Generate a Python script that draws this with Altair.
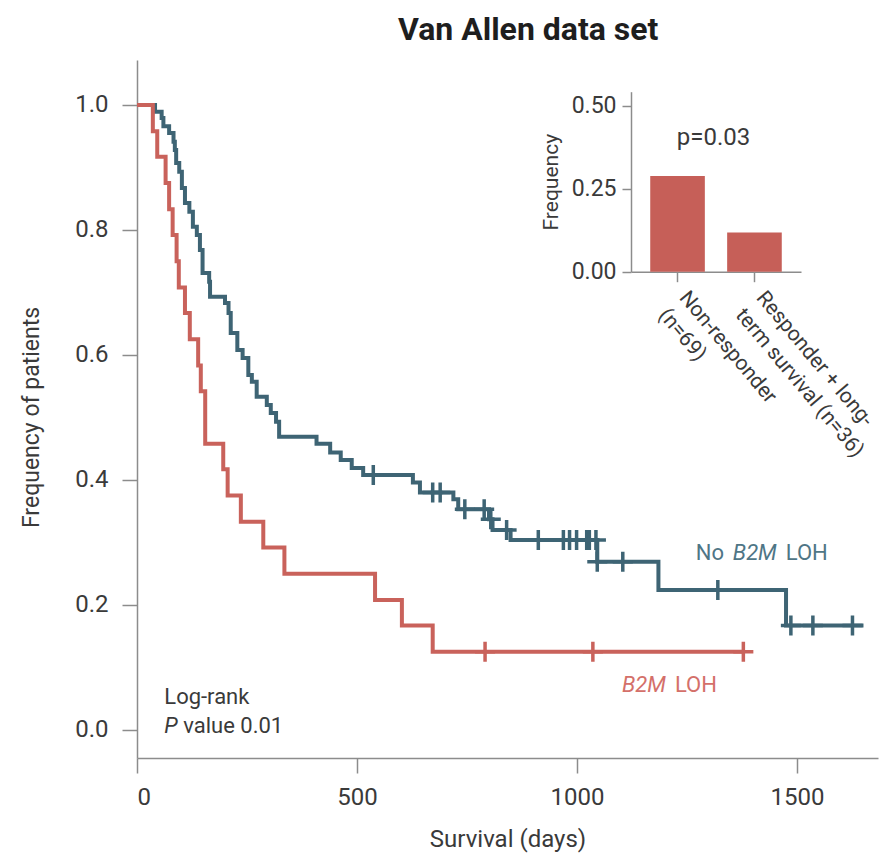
import altair as alt
import pandas as pd

BLUE = "#3E6474"
RED = "#C9625B"
BLUE_TXT = "#4F7686"
RED_TXT = "#D4706A"
BAR = "#C65F58"
TXT = "#3a3a3a"
AX = "#8c8c8c"
FONT = "Roboto"

# ---- Kaplan-Meier step points (day, survival) ----
blue_days = [0, 41, 56, 60, 73, 83, 86, 89, 96, 102, 109, 119, 127, 136, 143, 149,
             164, 166, 200, 208, 213, 228, 240, 253, 261, 272, 295, 304, 316, 323,
             408, 439, 463, 488, 514, 627, 643, 719, 730, 800, 808, 849, 1046, 1185,
             1475, 1651]
blue_surv = [1.0, 0.989, 0.979, 0.966, 0.955, 0.941, 0.928, 0.907, 0.893, 0.867,
             0.843, 0.829, 0.805, 0.792, 0.768, 0.731, 0.717, 0.693, 0.683, 0.667,
             0.635, 0.608, 0.595, 0.568, 0.557, 0.533, 0.52, 0.507, 0.493, 0.469,
             0.458, 0.444, 0.432, 0.419, 0.408, 0.396, 0.38, 0.369, 0.353, 0.337,
             0.32, 0.304, 0.269, 0.224, 0.167, 0.167]
blue_cens_days = [537, 672, 689, 745, 789, 804, 840, 912, 969, 983, 999, 1022, 1028,
                  1043, 1046, 1104, 1320, 1486, 1536, 1626]
blue_cens_surv = [0.408, 0.38, 0.38, 0.353, 0.353, 0.337, 0.32, 0.304, 0.304, 0.304,
                  0.304, 0.304, 0.304, 0.304, 0.269, 0.269, 0.224, 0.167, 0.167, 0.167]

red_days = [0, 36, 46, 65, 73, 81, 90, 95, 109, 120, 139, 145, 155, 196, 206, 236,
            287, 335, 541, 602, 672, 1378]
red_surv = [1.0, 0.958, 0.917, 0.875, 0.833, 0.792, 0.75, 0.708, 0.667, 0.625, 0.583,
            0.542, 0.458, 0.417, 0.375, 0.333, 0.292, 0.25, 0.208, 0.167, 0.125, 0.125]
red_cens_days = [791, 1036, 1378]
red_cens_surv = [0.125, 0.125, 0.125]

x_ticks = [0, 500, 1000, 1500]
y_ticks = [0.0, 0.2, 0.4, 0.6, 0.8, 1.0]

# ---- inset bar chart ----
inset_cats = ["Non-responder|(n=69)", "Responder + long-|term survival (n=36)"]
inset_freq = [0.289, 0.118]
inset_ticks = [0.0, 0.25, 0.5]

blue_df = pd.DataFrame({"day": blue_days, "surv": blue_surv})
red_df = pd.DataFrame({"day": red_days, "surv": red_surv})
blue_c = pd.DataFrame({"day": blue_cens_days, "surv": blue_cens_surv})
red_c = pd.DataFrame({"day": red_cens_days, "surv": red_cens_surv})
inset_df = pd.DataFrame({"cat": inset_cats, "freq": inset_freq})

xs = alt.Scale(domain=[0, 1684], nice=False, zero=False)
ys = alt.Scale(domain=[-0.045, 1.072], nice=False, zero=False)

x_axis = alt.Axis(values=x_ticks, format="d", title="Survival (days)", grid=False,
                  tickSize=15, tickColor=AX, tickWidth=1.5, domainColor=AX, domainWidth=1.5,
                  labelFont=FONT, labelFontSize=24, labelColor=TXT, labelPadding=12,
                  titleFont=FONT, titleFontSize=24, titleFontWeight="normal", titleColor=TXT,
                  titleY=88, titleBaseline="alphabetic")
y_axis = alt.Axis(values=y_ticks, format=".1f", title="Frequency of patients", grid=False,
                  tickSize=15, tickColor=AX, tickWidth=1.5, domainColor=AX, domainWidth=1.5,
                  labelFont=FONT, labelFontSize=24, labelColor=TXT, labelPadding=14,
                  titleFont=FONT, titleFontSize=23, titleFontWeight="normal", titleColor=TXT,
                  titleX=-99, titleY=357, titleAngle=270, titleAlign="center",
                  titleBaseline="alphabetic")


def X():
    return alt.X("day:Q", scale=xs, axis=x_axis)


def Y():
    return alt.Y("surv:Q", scale=ys, axis=y_axis)


PLUS = "M-1,0H1M0,-1V1"


def km_line(df, color):
    return alt.Chart(df).mark_line(interpolate="step-after", strokeWidth=4, color=color).encode(x=X(), y=Y())


def censor(df, color):
    return alt.Chart(df).mark_point(shape=PLUS, size=400, filled=False, strokeWidth=3.5,
                                    color=color, opacity=1).encode(x=X(), y=Y())


def txt(day, surv, label, color, italic=False, dx=0, size=22, align="left", bold=False):
    d = pd.DataFrame({"day": [day], "surv": [surv], "label": [label]})
    return alt.Chart(d).mark_text(align=align, baseline="alphabetic", font=FONT, fontSize=size,
                                  fontStyle="italic" if italic else "normal",
                                  fontWeight="bold" if bold else "normal", color=color,
                                  dx=dx).encode(x=X(), y=Y(), text="label:N")


main = alt.layer(
    km_line(blue_df, BLUE),
    censor(blue_c, BLUE),
    km_line(red_df, RED),
    censor(red_c, RED),
    txt(1270, 0.272, "No", BLUE_TXT),
    txt(1270, 0.272, "B2M", BLUE_TXT, italic=True, dx=37),
    txt(1270, 0.272, "LOH", BLUE_TXT, dx=90),
    txt(1102, 0.06, "B2M", RED_TXT, italic=True),
    txt(1102, 0.06, "LOH", RED_TXT, dx=53),
    txt(62, 0.041, "Log-rank", TXT),
    txt(62, -0.005, "P", TXT, italic=True),
    txt(62, -0.005, "value 0.01", TXT, dx=19),
    txt(889, 1.104, "Van Allen data set", "#1e1e1e", size=32, align="center", bold=True),
)

ix_scale = alt.Scale(domain=inset_cats, range=[494, 664], paddingInner=0.29, paddingOuter=0.25)
iy_scale = alt.Scale(domain=[0, 0.543], range=[211.7, 31.7], nice=False, zero=False)
ix_axis = alt.Axis(orient="bottom", offset=-486.3, title="", grid=False, labelAngle=50,
                   labelAlign="left", labelBaseline="top", labelExpr="split(datum.label, '|')",
                   labelFont=FONT, labelFontSize=21, labelLineHeight=27, labelColor=TXT,
                   labelLimit=0, labelPadding=5, labelOffset=14, tickSize=10, tickColor=AX,
                   tickWidth=1.5, domainColor=AX, domainWidth=1.5)
iy_axis = alt.Axis(orient="left", offset=-494, values=inset_ticks, format=".2f",
                   title="Frequency", grid=False, tickSize=9, tickColor=AX, tickWidth=1.5,
                   domainColor=AX, domainWidth=1.5, labelFont=FONT, labelFontSize=23,
                   labelColor=TXT, labelPadding=6, titleFont=FONT, titleFontSize=21,
                   titleFontWeight="normal", titleColor=TXT, titlePadding=10)

IX = alt.X("cat:N", sort=inset_cats, scale=ix_scale, axis=ix_axis)
IY = alt.Y("freq:Q", scale=iy_scale, axis=iy_axis)

bars = alt.Chart(inset_df).mark_bar(color=BAR).encode(x=IX, y=IY)
ptext = alt.Chart(pd.DataFrame({"cat": [inset_cats[0]], "freq": [0.382], "label": ["p=0.03"]})).mark_text(
    align="center", baseline="alphabetic", font=FONT, fontSize=24, color=TXT, dx=36
).encode(x=IX, y=IY, text="label:N")

inset = alt.layer(bars, ptext)

chart = alt.layer(main, inset).resolve_scale(x="independent", y="independent").properties(
    width=741, height=698,
    padding={"left": 129, "top": 52, "right": 4, "bottom": 95},
    autosize=alt.AutoSizeParams(type="none"),
).configure_view(strokeWidth=0)

chart.save("out.html", embed_options={"renderer": "svg", "actions": False})
